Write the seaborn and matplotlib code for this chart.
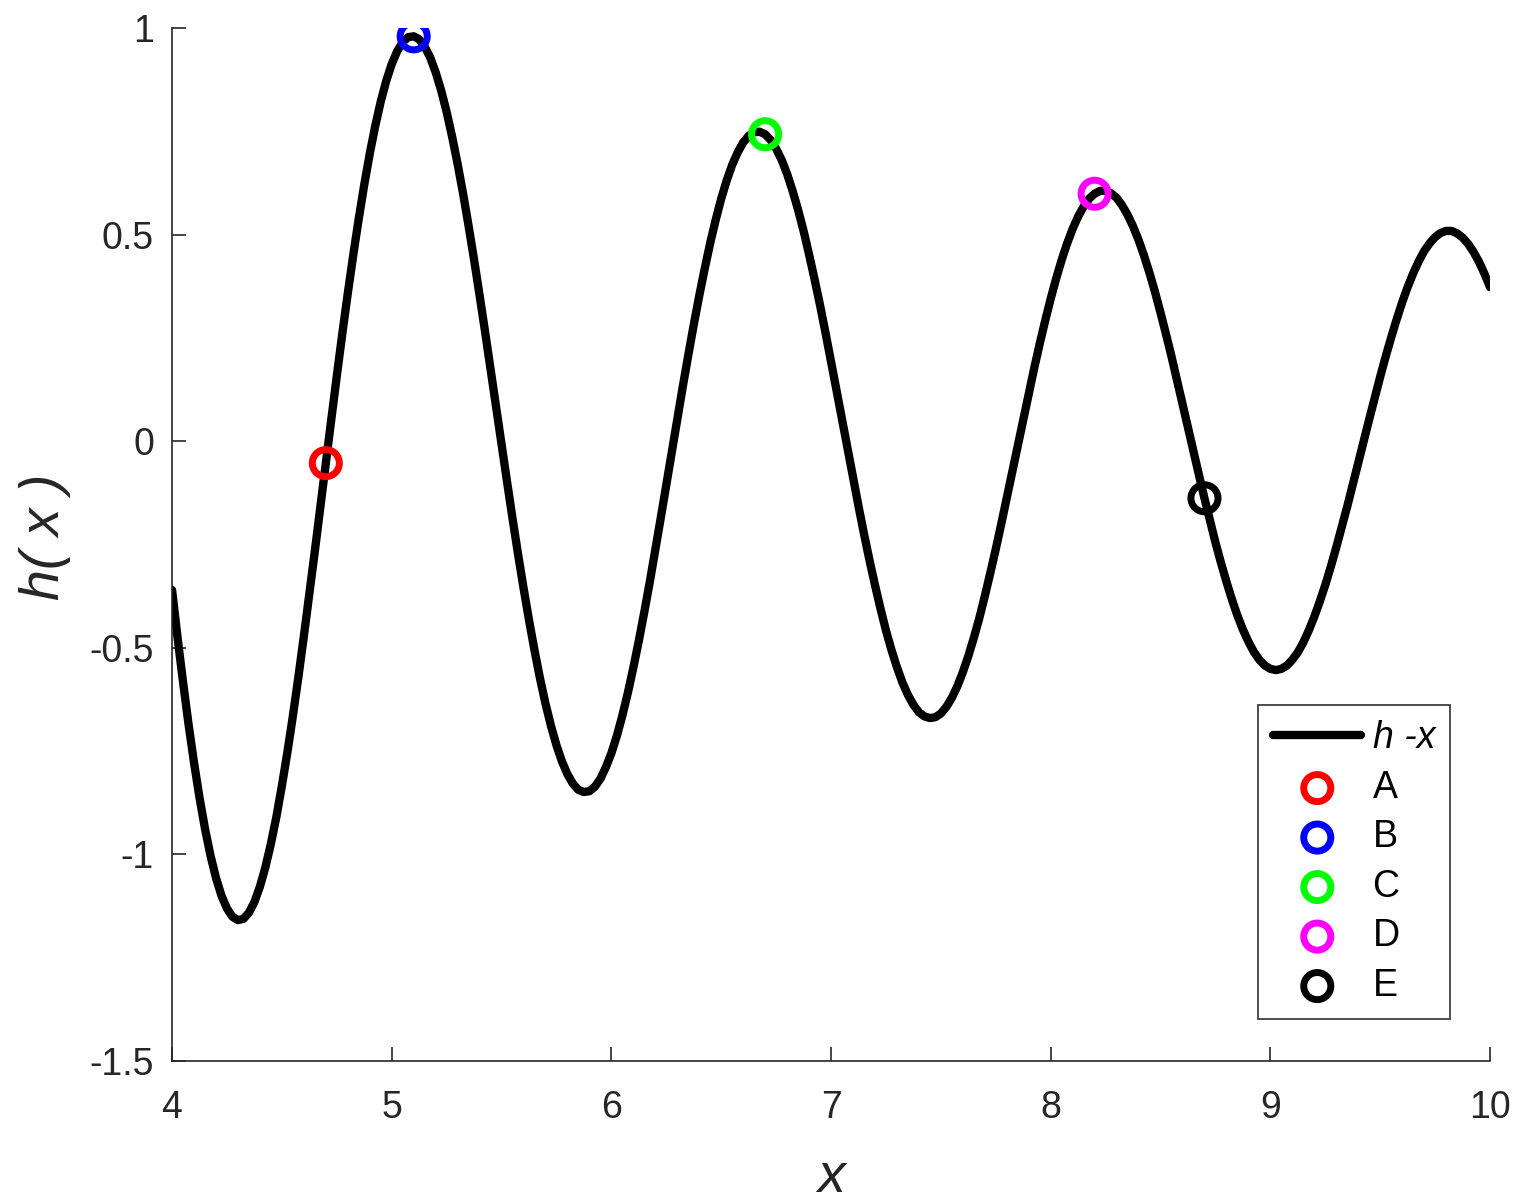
import numpy as np
import pandas as pd
import matplotlib
matplotlib.use("Agg")
import matplotlib.pyplot as plt
import seaborn as sns

x_start, x_stop, n_samples = 4.0, 10.0, 241
h_values = [
    -0.360, -0.475, -0.583, -0.685, -0.778, -0.863, -0.938, -1.003, -1.057, -1.100,
    -1.131, -1.151, -1.159, -1.156, -1.141, -1.115, -1.078, -1.031, -0.974, -0.909,
    -0.834, -0.753, -0.665, -0.571, -0.472, -0.370, -0.266, -0.159, -0.053, 0.053,
    0.158, 0.260, 0.358, 0.451, 0.539, 0.621, 0.696, 0.763, 0.822, 0.872,
    0.913, 0.944, 0.966, 0.978, 0.980, 0.973, 0.955, 0.929, 0.893, 0.849,
    0.797, 0.737, 0.671, 0.599, 0.521, 0.439, 0.353, 0.265, 0.174, 0.083,
    -0.008, -0.098, -0.187, -0.273, -0.355, -0.433, -0.506, -0.574, -0.635, -0.689,
    -0.736, -0.775, -0.806, -0.829, -0.844, -0.849, -0.847, -0.836, -0.817, -0.789,
    -0.755, -0.713, -0.664, -0.609, -0.548, -0.483, -0.413, -0.340, -0.263, -0.185,
    -0.106, -0.026, 0.053, 0.132, 0.208, 0.282, 0.352, 0.418, 0.480, 0.536,
    0.587, 0.631, 0.669, 0.699, 0.723, 0.739, 0.748, 0.749, 0.743, 0.729,
    0.708, 0.681, 0.647, 0.606, 0.560, 0.509, 0.452, 0.392, 0.329, 0.262,
    0.193, 0.123, 0.053, -0.018, -0.088, -0.157, -0.224, -0.288, -0.348, -0.405,
    -0.458, -0.505, -0.547, -0.584, -0.614, -0.638, -0.656, -0.666, -0.670, -0.668,
    -0.659, -0.643, -0.621, -0.593, -0.559, -0.520, -0.476, -0.428, -0.375, -0.319,
    -0.261, -0.200, -0.137, -0.074, -0.010, 0.053, 0.116, 0.177, 0.236, 0.292,
    0.345, 0.394, 0.439, 0.479, 0.514, 0.544, 0.568, 0.587, 0.599, 0.606,
    0.606, 0.600, 0.589, 0.571, 0.548, 0.520, 0.487, 0.449, 0.407, 0.361,
    0.311, 0.259, 0.205, 0.148, 0.091, 0.033, -0.025, -0.082, -0.138, -0.192,
    -0.245, -0.294, -0.340, -0.383, -0.422, -0.456, -0.485, -0.510, -0.529, -0.543,
    -0.551, -0.554, -0.551, -0.543, -0.529, -0.511, -0.487, -0.458, -0.425, -0.388,
    -0.348, -0.304, -0.257, -0.208, -0.158, -0.105, -0.053, 0.000, 0.053, 0.105,
    0.156, 0.205, 0.251, 0.295, 0.336, 0.373, 0.406, 0.435, 0.460, 0.479,
    0.494, 0.504, 0.509, 0.509, 0.503, 0.493, 0.478, 0.458, 0.434, 0.405,
    0.373,
]
point_names = ["A", "B", "C", "D", "E"]
point_x = [4.7, 5.1, 6.7, 8.2, 8.7]
point_y = [-0.053, 0.980, 0.743, 0.599, -0.138]
point_colors = ["#ff0000", "#0000ff", "#00ff00", "#ff00ff", "#000000"]
curve_label = "h -x"
x_ticks = [4, 5, 6, 7, 8, 9, 10]
x_tick_labels = ["4", "5", "6", "7", "8", "9", "10"]
y_ticks = [-1.5, -1, -0.5, 0, 0.5, 1]
y_tick_labels = ["-1.5", "-1", "-0.5", "0", "0.5", "1"]

# ---- styling ----
sns.set_style("ticks")
plt.rcParams["font.family"] = ["Liberation Sans", "DejaVu Sans"]
axis_color = "#262626"

fig = plt.figure(figsize=(15.24, 12.04), dpi=100)
ax = fig.add_axes([0.1129, 0.1188, 0.8648, 0.8579])

curve = pd.DataFrame({"x": np.linspace(x_start, x_stop, n_samples), "h": h_values})
sns.lineplot(data=curve, x="x", y="h", color="black", linewidth=6,
             ax=ax, label=curve_label, zorder=2)

for name, px, py, c in zip(point_names, point_x, point_y, point_colors):
    sns.scatterplot(x=[px], y=[py], ax=ax, marker="o", s=380,
                    facecolor="none", edgecolor=c, linewidth=5,
                    label=name, zorder=3)

ax.set_xlim(4, 10)
ax.set_ylim(-1.5, 1)
ax.set_xticks(x_ticks)
ax.set_xticklabels(x_tick_labels)
ax.set_yticks(y_ticks)
ax.set_yticklabels(y_tick_labels)

for side in ["top", "right"]:
    ax.spines[side].set_visible(False)
for side in ["left", "bottom"]:
    ax.spines[side].set_color(axis_color)
    ax.spines[side].set_linewidth(1.2)

ax.tick_params(direction="in", length=10, width=1.2, colors=axis_color,
               labelsize=27, labelcolor=axis_color)
ax.tick_params(axis="x", pad=21)
ax.tick_params(axis="y", pad=13)

ax.set_xlabel("x", fontsize=40, fontstyle="italic", color=axis_color)
ax.set_ylabel("h( x )", fontsize=40, fontstyle="italic", color=axis_color)
ax.xaxis.set_label_coords(0.5, -0.088)
ax.yaxis.set_label_coords(-0.077, 0.507)

leg = ax.legend(loc="lower right", bbox_to_anchor=(0.9697, 0.0407),
                borderaxespad=0, frameon=True, fancybox=False,
                edgecolor="#404040", framealpha=1, fontsize=27,
                handlelength=2.35, labelspacing=0.36, borderpad=0.4,
                handletextpad=0.3)
leg.get_frame().set_linewidth(1.3)
for txt in leg.get_texts():
    txt.set_color("black")
leg.get_texts()[0].set_fontstyle("italic")

fig.savefig("out.png", dpi=100)
